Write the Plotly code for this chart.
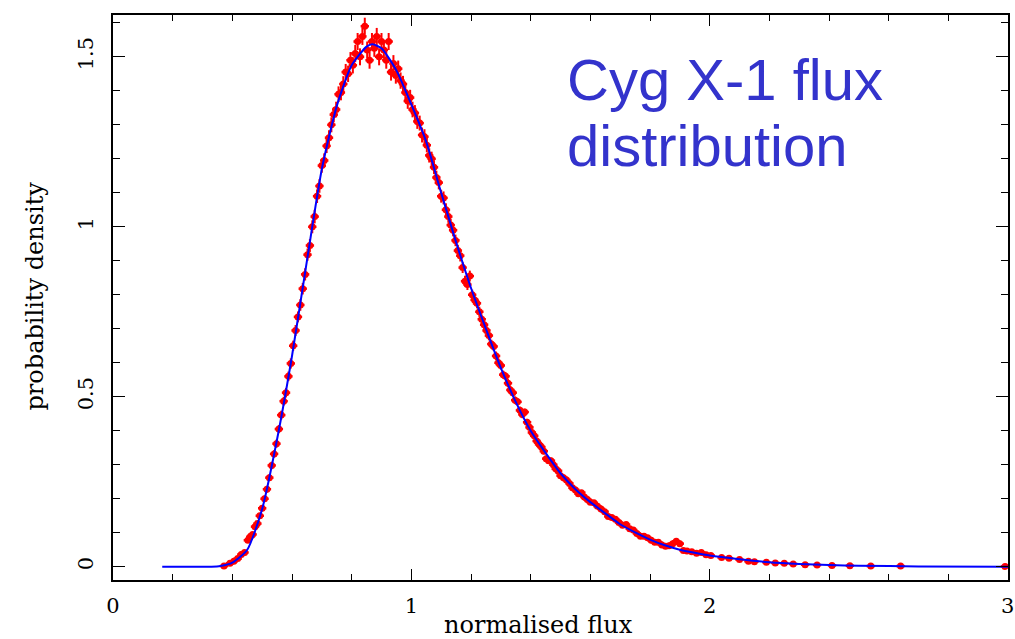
import plotly.graph_objects as go

# ---- data ----
flux = [0.372, 0.392, 0.405, 0.418, 0.430, 0.441, 0.452, 0.460, 0.468, 0.476, 0.484, 0.492,
        0.500, 0.508, 0.516, 0.524, 0.532, 0.540, 0.548, 0.556, 0.564, 0.572, 0.580, 0.588,
        0.596, 0.604, 0.612, 0.620, 0.628, 0.636, 0.644, 0.652, 0.660, 0.668, 0.676, 0.684,
        0.692, 0.700, 0.708, 0.716, 0.724, 0.732, 0.740, 0.748, 0.756, 0.764, 0.772, 0.780,
        0.788, 0.796, 0.804, 0.812, 0.820, 0.828, 0.836, 0.844, 0.852, 0.860, 0.868, 0.876,
        0.884, 0.892, 0.900, 0.908, 0.916, 0.924, 0.932, 0.940, 0.948, 0.956, 0.964, 0.972,
        0.980, 0.988, 0.996, 1.004, 1.012, 1.020, 1.028, 1.036, 1.044, 1.052, 1.060, 1.068,
        1.076, 1.084, 1.092, 1.100, 1.108, 1.116, 1.124, 1.132, 1.140, 1.148, 1.156, 1.164,
        1.172, 1.180, 1.188, 1.196, 1.204, 1.212, 1.220, 1.228, 1.236, 1.244, 1.252, 1.260,
        1.268, 1.276, 1.284, 1.292, 1.300, 1.308, 1.316, 1.324, 1.332, 1.340, 1.348, 1.356,
        1.364, 1.372, 1.380, 1.388, 1.396, 1.404, 1.412, 1.420, 1.428, 1.436, 1.444, 1.452,
        1.460, 1.468, 1.476, 1.484, 1.492, 1.500, 1.510, 1.520, 1.530, 1.540, 1.550, 1.560,
        1.570, 1.580, 1.590, 1.600, 1.612, 1.624, 1.636, 1.648, 1.660, 1.672, 1.684, 1.696,
        1.708, 1.720, 1.732, 1.744, 1.756, 1.768, 1.780, 1.792, 1.804, 1.816, 1.828, 1.840,
        1.852, 1.864, 1.876, 1.888, 1.900, 1.912, 1.924, 1.940, 1.956, 1.972, 1.988, 2.004,
        2.040, 2.065, 2.100, 2.130, 2.150, 2.190, 2.220, 2.250, 2.280, 2.320, 2.360, 2.410,
        2.470, 2.540, 2.640, 2.990]

density = [0.002, 0.010, 0.016, 0.024, 0.036, 0.042, 0.078, 0.088, 0.095, 0.118, 0.127, 0.150,
           0.172, 0.200, 0.228, 0.262, 0.298, 0.332, 0.362, 0.405, 0.446, 0.487, 0.512, 0.560,
           0.598, 0.650, 0.695, 0.735, 0.770, 0.818, 0.860, 0.918, 0.945, 1.000, 1.030, 1.090,
           1.120, 1.180, 1.195, 1.238, 1.262, 1.300, 1.330, 1.345, 1.390, 1.395, 1.420, 1.455,
           1.450, 1.490, 1.475, 1.510, 1.545, 1.500, 1.560, 1.590, 1.520, 1.490, 1.545, 1.525,
           1.560, 1.500, 1.545, 1.520, 1.490, 1.545, 1.455, 1.480, 1.445, 1.465, 1.430, 1.420,
           1.395, 1.370, 1.380, 1.345, 1.335, 1.310, 1.305, 1.270, 1.265, 1.240, 1.210, 1.200,
           1.175, 1.145, 1.130, 1.090, 1.085, 1.050, 1.030, 1.005, 0.990, 0.960, 0.930, 0.915,
           0.880, 0.840, 0.830, 0.855, 0.800, 0.785, 0.775, 0.750, 0.728, 0.712, 0.695, 0.680,
           0.655, 0.648, 0.620, 0.600, 0.592, 0.565, 0.560, 0.540, 0.520, 0.512, 0.490, 0.485,
           0.460, 0.448, 0.455, 0.425, 0.410, 0.395, 0.385, 0.370, 0.360, 0.352, 0.340, 0.318,
           0.312, 0.312, 0.300, 0.288, 0.282, 0.268, 0.262, 0.255, 0.245, 0.232, 0.226, 0.215,
           0.218, 0.205, 0.198, 0.190, 0.188, 0.178, 0.170, 0.162, 0.148, 0.145, 0.140, 0.130,
           0.122, 0.124, 0.112, 0.108, 0.098, 0.090, 0.090, 0.085, 0.078, 0.072, 0.072, 0.064,
           0.060, 0.062, 0.068, 0.075, 0.068, 0.048, 0.046, 0.044, 0.040, 0.042, 0.035, 0.033,
           0.027, 0.025, 0.021, 0.016, 0.015, 0.013, 0.011, 0.010, 0.008, 0.006, 0.005, 0.004,
           0.003, 0.002, 0.002, 0.001]

density_err = [0.003, 0.004, 0.004, 0.005, 0.005, 0.006, 0.006, 0.007, 0.007, 0.008, 0.008, 0.008,
               0.009, 0.009, 0.010, 0.010, 0.011, 0.011, 0.012, 0.012, 0.013, 0.013, 0.014, 0.014,
               0.015, 0.015, 0.016, 0.016, 0.017, 0.017, 0.018, 0.018, 0.019, 0.019, 0.020, 0.020,
               0.020, 0.021, 0.021, 0.021, 0.022, 0.022, 0.022, 0.023, 0.023, 0.023, 0.023, 0.024,
               0.024, 0.024, 0.024, 0.025, 0.025, 0.025, 0.025, 0.025, 0.025, 0.025, 0.025, 0.025,
               0.025, 0.025, 0.025, 0.025, 0.025, 0.025, 0.025, 0.025, 0.024, 0.024, 0.024, 0.024,
               0.024, 0.023, 0.023, 0.023, 0.023, 0.022, 0.022, 0.022, 0.022, 0.021, 0.021, 0.021,
               0.020, 0.020, 0.020, 0.019, 0.019, 0.019, 0.018, 0.018, 0.018, 0.017, 0.017, 0.017,
               0.016, 0.016, 0.016, 0.016, 0.015, 0.015, 0.015, 0.015, 0.014, 0.014, 0.014, 0.014,
               0.013, 0.013, 0.013, 0.013, 0.012, 0.012, 0.012, 0.012, 0.012, 0.011, 0.011, 0.011,
               0.011, 0.011, 0.010, 0.010, 0.010, 0.010, 0.010, 0.010, 0.009, 0.009, 0.009, 0.009,
               0.009, 0.009, 0.009, 0.008, 0.008, 0.008, 0.008, 0.008, 0.008, 0.008, 0.007, 0.007,
               0.007, 0.007, 0.007, 0.007, 0.007, 0.006, 0.006, 0.006, 0.006, 0.006, 0.006, 0.006,
               0.005, 0.005, 0.005, 0.005, 0.005, 0.005, 0.005, 0.005, 0.004, 0.004, 0.004, 0.004,
               0.004, 0.004, 0.004, 0.004, 0.004, 0.004, 0.004, 0.004, 0.003, 0.003, 0.003, 0.003,
               0.003, 0.003, 0.003, 0.002, 0.002, 0.002, 0.002, 0.002, 0.002, 0.002, 0.002, 0.001,
               0.001, 0.001, 0.001, 0.001]

model_x = [0.165, 0.25, 0.33, 0.36, 0.40, 0.45, 0.50, 0.55, 0.60, 0.65, 0.70, 0.75, 0.80,
           0.85, 0.87, 0.90, 0.95, 1.00, 1.05, 1.10, 1.15, 1.20, 1.25, 1.30, 1.35, 1.40, 1.45,
           1.50, 1.55, 1.60, 1.65, 1.70, 1.75, 1.80, 1.85, 1.90, 1.95, 2.00, 2.10, 2.20, 2.30,
           2.40, 2.50, 2.70, 3.00]
model_y = [0.0, 0.0, 0.0, 0.002, 0.012, 0.05, 0.17, 0.375, 0.62, 0.90, 1.17, 1.355, 1.475,
           1.53, 1.537, 1.525, 1.46, 1.36, 1.25, 1.10, 0.955, 0.82, 0.70, 0.585, 0.485, 0.40,
           0.335, 0.275, 0.228, 0.19, 0.157, 0.125, 0.101, 0.080, 0.063, 0.050, 0.041, 0.033,
           0.022, 0.013, 0.008, 0.005, 0.003, 0.001, 0.0]

x_tick_vals = [0, 1, 2, 2.999]
x_tick_text = ["0", "1", "2", "3"]
y_tick_vals = [0, 0.5, 1, 1.5]
y_tick_text = ["0", "0.5", "1", "1.5"]

SERIF = "DejaVu Serif"

fig = go.Figure()
fig.add_trace(go.Scatter(
    x=flux, y=density, mode="markers",
    marker=dict(color="#ff0000", size=7, line=dict(width=0)),
    error_y=dict(type="data", array=density_err, color="#ff0000", thickness=2, width=0),
    error_x=dict(type="constant", value=0.014, color="#ff0000", thickness=2.5, width=0),
    showlegend=False, hoverinfo="skip"))
fig.add_trace(go.Scatter(
    x=model_x, y=model_y, mode="lines",
    line=dict(color="#0000ff", width=2, shape="spline", smoothing=0.6),
    showlegend=False, hoverinfo="skip"))

axis_common = dict(showline=True, linecolor="black", linewidth=1.5, mirror="ticks",
                   ticks="inside", tickcolor="black", tickwidth=1.2,
                   showgrid=False, zeroline=False, ticklabeloverflow="allow",
                   tickfont=dict(family=SERIF, size=21, color="black"))

fig.update_xaxes(range=[0, 3.0], tickmode="array", tickvals=x_tick_vals, ticktext=x_tick_text,
                 ticklen=11, ticklabelstandoff=6,
                 minor=dict(dtick=0.2, tick0=0, ticks="inside", ticklen=6, tickcolor="black",
                            tickwidth=1.2, showgrid=False),
                 **axis_common)
fig.update_yaxes(range=[-0.039, 1.623], tickmode="array", tickvals=y_tick_vals,
                 ticktext=y_tick_text, tickangle=-90, ticklen=12, ticklabelstandoff=10,
                 minor=dict(dtick=0.1, tick0=0, ticks="inside", ticklen=7, tickcolor="black",
                            tickwidth=1.2, showgrid=False),
                 **axis_common)

fig.update_layout(
    width=1015, height=639,
    margin=dict(l=113, r=1, t=15, b=59),
    paper_bgcolor="white", plot_bgcolor="white",
    annotations=[
        dict(text="normalised flux", xref="paper", yref="paper", x=0.475, y=-0.08,
             xanchor="center", yanchor="middle", showarrow=False,
             font=dict(family=SERIF, size=24, color="black")),
        dict(text="probability density", xref="paper", yref="paper", x=-0.0875, y=0.503,
             xanchor="center", yanchor="middle", textangle=-90, showarrow=False,
             font=dict(family=SERIF, size=24, color="black")),
        dict(text="Cyg X-1 flux", xref="x", yref="y", x=1.515, y=1.432,
             xanchor="left", yanchor="middle", showarrow=False,
             font=dict(family="Liberation Sans", size=58, color="#3333cc")),
        dict(text="distribution", xref="x", yref="y", x=1.515, y=1.2395,
             xanchor="left", yanchor="middle", showarrow=False,
             font=dict(family="Liberation Sans", size=58, color="#3333cc")),
    ],
)

fig.write_html("out.html", config={"displayModeBar": False},
               post_script="document.body.style.margin='0';document.body.style.padding='0';"
                           "document.body.style.overflow='hidden';")
